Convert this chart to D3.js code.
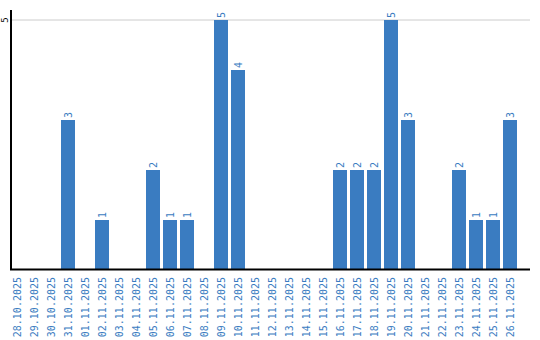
<!DOCTYPE html>
<html>
<head>
<meta charset="utf-8">
<script src="https://cdn.jsdelivr.net/npm/d3@7"></script>
<style>
  body { margin: 0; background: #fff; }
  text { font-family: "DejaVu Sans Mono", monospace; font-size: 10px; }
</style>
</head>
<body>
<div class="main"></div>
<script>
const dates = ["28.10.2025","29.10.2025","30.10.2025","31.10.2025","01.11.2025","02.11.2025",
    "03.11.2025","04.11.2025","05.11.2025","06.11.2025","07.11.2025","08.11.2025","09.11.2025",
    "10.11.2025","11.11.2025","12.11.2025","13.11.2025","14.11.2025","15.11.2025","16.11.2025",
    "17.11.2025","18.11.2025","19.11.2025","20.11.2025","21.11.2025","22.11.2025","23.11.2025",
    "24.11.2025","25.11.2025","26.11.2025"];
const counts = [0,0,0,3,0,1,0,0,2,1,1,0,5,4,0,0,0,0,0,2,2,2,5,3,0,0,2,1,1,3];
const yTicks = [5];

const width = 540, height = 340;
const blue = "#3a7cc1";

const svg = d3.select(".main").append("svg")
    .attr("width", width)
    .attr("height", height);

const x = d3.scaleBand()
    .domain(dates)
    .range([8.5, 8.5 + 510])
    .paddingInner(3/17)
    .paddingOuter(3/34);

const y = d3.scaleLinear()
    .domain([0, 5.2])
    .range([270, 10]);

// gridline
svg.selectAll("line.grid")
    .data(yTicks)
    .enter().append("line")
    .attr("class", "grid")
    .attr("x1", 12).attr("x2", 530)
    .attr("y1", d => y(d)).attr("y2", d => y(d))
    .attr("stroke", "#cccccc")
    .attr("stroke-width", 1);

// y tick labels (rotated)
svg.selectAll("text.ytick")
    .data(yTicks)
    .enter().append("text")
    .attr("class", "ytick")
    .attr("transform", d => "translate(8," + y(d) + ") rotate(-90)")
    .attr("text-anchor", "middle")
    .attr("fill", "#000")
    .style("font-size", "9px")
    .text(d => d);

// bars
svg.selectAll("rect.bar")
    .data(dates.map((d, i) => ({ date: d, value: counts[i] })).filter(d => d.value > 0))
    .enter().append("rect")
    .attr("class", "bar")
    .attr("x", d => x(d.date))
    .attr("y", d => y(d.value))
    .attr("width", x.bandwidth())
    .attr("height", d => y(0) - y(d.value))
    .attr("fill", blue);

// value labels
svg.selectAll("text.val")
    .data(dates.map((d, i) => ({ date: d, value: counts[i] })).filter(d => d.value > 0))
    .enter().append("text")
    .attr("class", "val")
    .attr("transform", d => "translate(" + (x(d.date) + x.bandwidth() / 2 + 3.5) + "," + (y(d.value) - 2) + ") rotate(-90)")
    .attr("text-anchor", "start")
    .attr("fill", blue)
    .text(d => d.value);

// axes lines
svg.append("line")
    .attr("x1", 11).attr("x2", 11)
    .attr("y1", 10).attr("y2", 270)
    .attr("stroke", "#000").attr("stroke-width", 2);
svg.append("line")
    .attr("x1", 10).attr("x2", 530)
    .attr("y1", 269.5).attr("y2", 269.5)
    .attr("stroke", "#000").attr("stroke-width", 2);

// x labels (rotated)
svg.selectAll("text.xlab")
    .data(dates)
    .enter().append("text")
    .attr("class", "xlab")
    .attr("transform", d => "translate(" + (x(d) + x.bandwidth() / 2 + 3.5) + ",277) rotate(-90)")
    .attr("text-anchor", "end")
    .attr("fill", blue)
    .text(d => d);
</script>
</body>
</html>
